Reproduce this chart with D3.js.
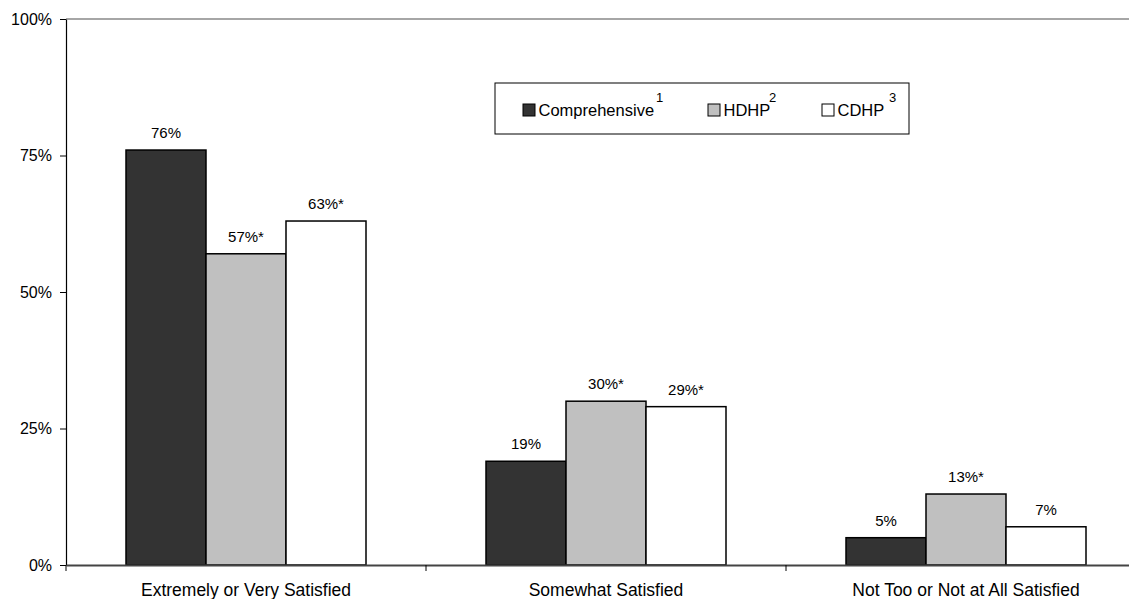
<!DOCTYPE html>
<html><head><meta charset="utf-8">
<script src="https://cdn.jsdelivr.net/npm/d3@7"></script>
<style>body{margin:0;background:#fff;} text{font-family:"Liberation Sans",Arial,sans-serif;fill:#000;}</style>
</head><body><svg id="c" width="1129" height="599"></svg>
<script>
const categories = ["Extremely or Very Satisfied", "Somewhat Satisfied", "Not Too or Not at All Satisfied"];
const seriesNames = ["Comprehensive", "HDHP", "CDHP"];
const seriesSup = ["1", "2", "3"];
const comprehensive = [76, 19, 5];
const hdhp = [57, 30, 13];
const cdhp = [63, 29, 7];
const labelsComprehensive = ["76%", "19%", "5%"];
const labelsHdhp = ["57%*", "30%*", "13%*"];
const labelsCdhp = ["63%*", "29%*", "7%"];
const yTicks = [0, 25, 50, 75, 100];
const colors = ["#333333", "#c0c0c0", "#ffffff"];

(function () {
const series = [comprehensive, hdhp, cdhp];
const seriesLabels = [labelsComprehensive, labelsHdhp, labelsCdhp];
const FF = '"Liberation Sans",Arial,sans-serif';

const svg = d3.select("#c");
const mLeft = 66, mTop = 19, mBottom = 565, mRight = 1146;
const x0 = d3.scaleBand().domain(categories).range([mLeft, mRight]).paddingInner(0).paddingOuter(0);
const x1 = d3.scaleBand().domain(seriesNames).range([0, x0.bandwidth()]).paddingOuter(0.75).paddingInner(0);
const y = d3.scaleLinear().domain([0, 100]).range([mBottom, mTop]);

// top gridline
svg.append("line").attr("x1", mLeft).attr("x2", mRight).attr("y1", y(100)).attr("y2", y(100))
  .attr("stroke", "#888").attr("stroke-width", 1.5);

// bars
const data = [];
categories.forEach((c, i) => seriesNames.forEach((s, j) => data.push({c, s, j, v: series[j][i], lab: seriesLabels[j][i]})));
svg.selectAll("rect.bar").data(data).enter().append("rect")
  .attr("x", d => x0(d.c) + x1(d.s))
  .attr("y", d => y(d.v))
  .attr("width", x1.bandwidth())
  .attr("height", d => y(0) - y(d.v))
  .attr("fill", d => colors[d.j])
  .attr("stroke", "#000").attr("stroke-width", 1.5);
svg.selectAll("text.val").data(data).enter().append("text")
  .attr("x", d => x0(d.c) + x1(d.s) + x1.bandwidth() / 2)
  .attr("y", d => y(d.v) - 12)
  .attr("text-anchor", "middle").attr("font-size", 15)
  .text(d => d.lab);

// y axis
const yAxis = d3.axisLeft(y).tickValues(yTicks).tickFormat(d => d + "%").tickSize(6).tickSizeOuter(0);
const ga = svg.append("g").attr("transform", `translate(${mLeft},0)`).call(yAxis);
ga.select(".domain").attr("stroke", "#000").attr("stroke-width", 1.2);
ga.selectAll(".tick line").attr("stroke", "#000");
ga.selectAll(".tick text").attr("font-size", 16).attr("font-family", FF).attr("fill", "#000").attr("x", -14);

// x axis
const xAxis = d3.axisBottom(x0).tickSize(0).tickSizeOuter(0);
const gx = svg.append("g").attr("transform", `translate(0,${mBottom})`).call(xAxis);
gx.select(".domain").attr("stroke", "#444").attr("stroke-width", 2);
gx.selectAll(".tick text").attr("font-size", 17.5).attr("font-family", FF).attr("fill", "#000").attr("dy", 0).attr("y", 31);
const seps = categories.map(c => x0(c));
svg.selectAll("line.sep").data(seps).enter().append("line")
  .attr("x1", d => d).attr("x2", d => d).attr("y1", mBottom).attr("y2", mBottom + 6)
  .attr("stroke", "#000").attr("stroke-width", 1);

// legend
const lg = svg.append("g");
lg.append("rect").attr("x", 495).attr("y", 83).attr("width", 414).attr("height", 51)
  .attr("fill", "#fff").attr("stroke", "#000").attr("stroke-width", 1);
const legX = [523, 708, 822];
const supX = [656, 769, 889];
seriesNames.forEach((s, j) => {
  lg.append("rect").attr("x", legX[j]).attr("y", 104).attr("width", 12).attr("height", 12)
    .attr("fill", colors[j]).attr("stroke", "#000").attr("stroke-width", 1);
  lg.append("text").attr("x", legX[j] + 15.5).attr("y", 116).attr("font-size", 16.5).text(s);
  lg.append("text").attr("x", supX[j]).attr("y", 101.5).attr("font-size", 13).text(seriesSup[j]);
});
})();
</script></body></html>
